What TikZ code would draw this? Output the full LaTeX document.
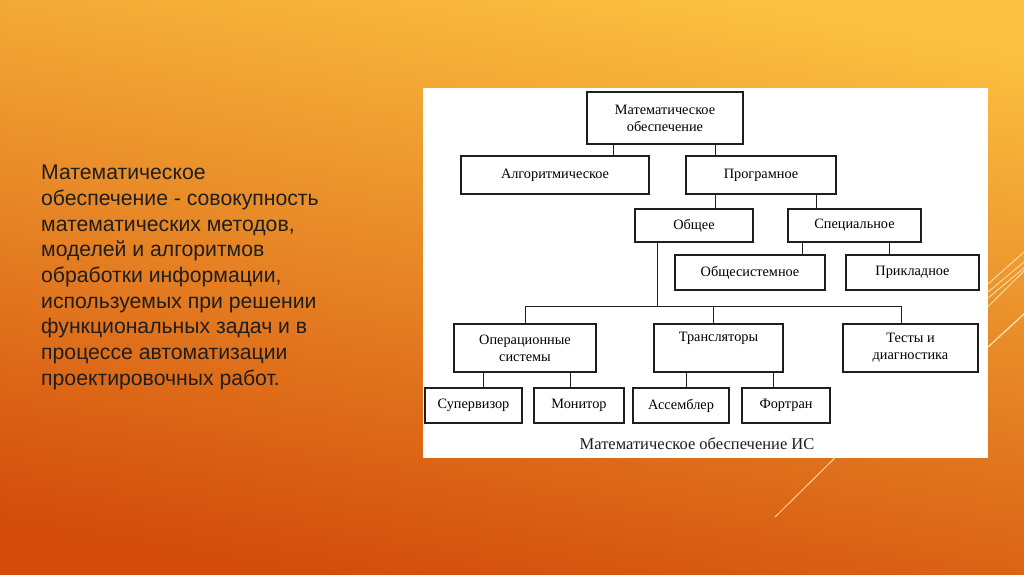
\documentclass[tikz,border=0pt]{standalone}
\usepackage{fontspec}
\setmainfont{Liberation Serif}
\newfontfamily\slidefont{Liberation Sans}
\definecolor{bgtop}{HTML}{FBC040}
\definecolor{bgmid}{HTML}{EC8C2A}
\definecolor{bgbot}{HTML}{D34C0B}
\definecolor{ink}{HTML}{1E1E1E}
\definecolor{deco}{HTML}{FFE6B0}
\begin{document}
\begin{tikzpicture}[x=1pt, y=-1pt,
  box/.style={draw=ink, rectangle, line width=1.3pt, inner sep=1pt, align=center,
    font=\fontsize{14.3}{17}\selectfont},
  link/.style={draw=ink, line width=0.9pt}]
% background of the slide
\shade[top color=bgtop, middle color=bgmid, bottom color=bgbot, shading angle=-10] (0,0) rectangle (1024,574);
\useasboundingbox (0,0) rectangle (1024,574);
\draw[deco, line width=0.8pt] (775,517) -- (1024,271);
\draw[deco, line width=0.8pt] (988,284) -- (1024,252);
\draw[deco, line width=0.8pt] (988,292) -- (1024,262);
\draw[deco, line width=0.8pt] (988,298) -- (1024,268);
\draw[deco, line width=1.2pt] (988,347) -- (1024,314);
% text on the left
\node[anchor=north west, inner sep=0, align=left, text=ink,
  font=\slidefont\fontsize{21.2}{25.7}\selectfont] (t) at (41,165)
  {Математическое\\обеспечение - совокупность\\математических методов,\\моделей и алгоритмов\\обработки информации,\\используемых при решении\\функциональных задач и в\\процессе автоматизации\\проектировочных работ.};
% the scheme
\fill[white] (423,88) rectangle (988,458);
\node[box, minimum width=156pt, minimum height=52pt] (1) at (665,118) {Математическое\\обеспечение};
\node[box, minimum width=188pt, minimum height=38pt] (2) at (555,175) {Алгоритмическое};
\node[box, minimum width=150pt, minimum height=38pt] (3) at (761,175) {Програмное};
\node[box, minimum width=118pt, minimum height=33pt] (4) at (694,225.5) {Общее};
\node[box, minimum width=133pt, minimum height=33pt] (5) at (854.5,225.5) {Специальное};
\node[box, minimum width=150pt, minimum height=35pt] (6) at (750,272.5) {Общесистемное};
\node[box, minimum width=133pt, minimum height=35pt] (7) at (912.5,272.5) {Прикладное};
\node[box, minimum width=142pt, minimum height=48pt] (8) at (525,348) {Операционные\\системы};
\node[box, minimum width=129pt, minimum height=48pt] (9) at (718.5,348) {Трансляторы\\\strut};
\node[box, minimum width=135pt, minimum height=48pt] (10) at (910.5,348) {Тесты и\\диагностика};
\node[box, minimum width=97pt, minimum height=35pt] (11) at (473.5,405.5) {Супервизор};
\node[box, minimum width=90pt, minimum height=35pt] (12) at (579,405.5) {Монитор};
\node[box, minimum width=96pt, minimum height=35pt] (13) at (681,405.5) {Ассемблер};
\node[box, minimum width=88pt, minimum height=35pt] (14) at (786,405.5) {Фортран};
\node[font=\fontsize{16.5}{18}\selectfont, text=ink] (15) at (697,444) {Математическое обеспечение ИС};
\coordinate (b) at (657,306);
\draw[link] ([xshift=-52pt]1.south) -- ([xshift=-52pt]1.south |- 2.north);
\draw[link] ([xshift=50pt]1.south) -- ([xshift=50pt]1.south |- 3.north);
\draw[link] ([xshift=-46pt]3.south) -- ([xshift=-46pt]3.south |- 4.north);
\draw[link] ([xshift=55pt]3.south) -- ([xshift=55pt]3.south |- 5.north);
\draw[link] ([xshift=-52.5pt]5.south) -- ([xshift=-52.5pt]5.south |- 6.north);
\draw[link] ([xshift=34.5pt]5.south) -- ([xshift=34.5pt]5.south |- 7.north);
\draw[link] ([xshift=-37pt]4.south) -- (b);
\draw[link] (8.north) |- (b);
\draw[link] ([xshift=-9pt]10.north) |- (b);
\draw[link] ([xshift=-5pt]9.north) -- ([xshift=-5pt]9.north |- b);
\draw[link] ([xshift=-42pt]8.south) -- ([xshift=-42pt]8.south |- 11.north);
\draw[link] ([xshift=45pt]8.south) -- ([xshift=45pt]8.south |- 12.north);
\draw[link] ([xshift=-32.5pt]9.south) -- ([xshift=-32.5pt]9.south |- 13.north);
\draw[link] ([xshift=54.5pt]9.south) -- ([xshift=54.5pt]9.south |- 14.north);
\end{tikzpicture}
\end{document}
